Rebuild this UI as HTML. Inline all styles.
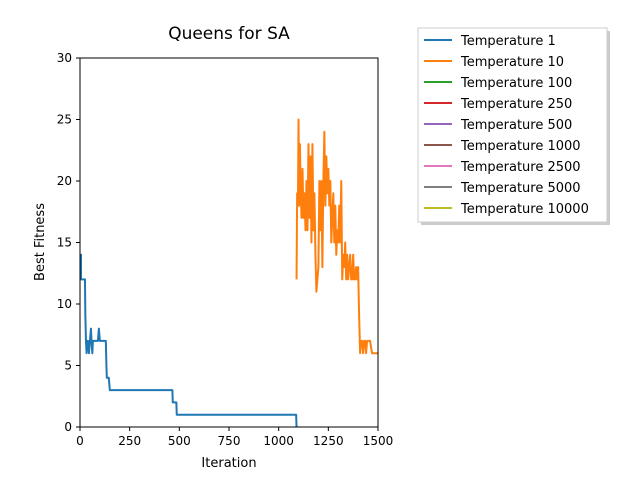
<!DOCTYPE html>
<html><head><meta charset="utf-8"><style>
body{margin:0;background:#fff;font-family:"Liberation Sans","DejaVu Sans",sans-serif}
</style></head><body>
<svg id="chart" width="640" height="480" xmlns="http://www.w3.org/2000/svg" font-family="DejaVu Sans, Liberation Sans, sans-serif">
<rect width="640" height="480" fill="#fff"/>
<text x="229" y="39" font-size="17" text-anchor="middle">Queens for SA</text>
<g id="axes"></g>
<g id="series"></g>
<rect x="80" y="58" width="298" height="369" fill="none" stroke="#000" stroke-width="1"/>
<text x="229" y="467" font-size="13" text-anchor="middle">Iteration</text>
<text x="0" y="0" font-size="13" text-anchor="middle" transform="translate(44,242) rotate(-90)">Best Fitness</text>
<g id="legend"></g>
</svg>
<script>
const xTicks=[0,250,500,750,1000,1250,1500];
const yTicks=[0,5,10,15,20,25,30];
const seriesNames=["Temperature 1","Temperature 10","Temperature 100","Temperature 250","Temperature 500","Temperature 1000","Temperature 2500","Temperature 5000","Temperature 10000"];
const seriesColors=["#1f77b4","#ff7f0e","#2ca02c","#d62728","#9467bd","#8c564b","#e377c2","#7f7f7f","#bcbd22"];
const blueIter=[0,5,5,25,27,30,33,37,40,45,50,55,58,62,65,70,75,80,85,90,95,100,105,110,130,133,135,140,145,150,465,467,485,487,1088,1090];
const blueVal=[14,14,12,12,9,7,6,7,7,6,7,8,7,6,7,7,7,7,7,7,8,7,7,7,7,5,4,4,4,3,3,2,2,1,1,0];
const orangeIter=[1090,1093,1097,1100,1103,1107,1110,1115,1120,1125,1130,1135,1140,1145,1150,1155,1160,1165,1170,1175,1180,1185,1190,1195,1200,1205,1210,1215,1220,1225,1230,1235,1240,1245,1250,1255,1260,1265,1270,1275,1280,1285,1290,1295,1300,1305,1310,1315,1320,1325,1330,1335,1340,1345,1350,1355,1360,1365,1370,1375,1380,1385,1390,1395,1400,1405,1410,1415,1420,1425,1430,1435,1440,1445,1450,1460,1470,1500];
const orangeVal=[12,19,18,25,18,23,20,17,21,17,19,16,20,16,23,17,22,15,23,16,19,14,11,12,13,20,16,20,13,20,24,18,22,19,21,18,20,15,17,19,15,18,14,16,15,18,15,20,12,14,13,15,12,14,12,13,14,12,12,14,12,12,13,12,13,9,6,7,7,6,7,7,6,7,7,7,6,6];
const X=v=>80+v*298/1500, Y=v=>427-v*369/30;
const NS="http://www.w3.org/2000/svg";
function mk(t,a,p){const e=document.createElementNS(NS,t);for(const k in a)e.setAttribute(k,a[k]);p.appendChild(e);return e;}
const ax=document.getElementById('axes');
xTicks.forEach(t=>{
  const l=mk('line',{x1:X(t),x2:X(t),y1:427,y2:431,stroke:'#000'},ax);
  
  
  const tx=mk('text',{x:X(t),y:445,'font-size':12,'text-anchor':'middle'},ax);tx.textContent=t;
  
  
});
yTicks.forEach(t=>{
  const l=mk('line',{x1:76,x2:80,y1:Y(t),y2:Y(t),stroke:'#000'},ax);
  
  
  const tx=mk('text',{x:72,y:Y(t)+4,'font-size':12,'text-anchor':'end'},ax);tx.textContent=t;
  
  
});
const sg=document.getElementById('series');
function line(it,v,c,name){
  const p=mk('polyline',{points:it.map((x,i)=>X(x)+','+Y(v[i])).join(' '),fill:'none',stroke:c,'stroke-width':2,'stroke-linejoin':'round'},sg);
  
  
}
line(blueIter,blueVal,seriesColors[0],'series-temperature-1');
line(orangeIter,orangeVal,seriesColors[1],'series-temperature-10');
const lg=document.getElementById('legend');
mk('rect',{x:421,y:31,width:189,height:194,fill:'#999',opacity:0.5},lg);
const box=mk('rect',{x:418,y:28,width:189,height:194,fill:'#fff',stroke:'#ccc'},lg);


seriesNames.forEach((n,i)=>{
  const y=40+i*21;
  const g=mk('g',{},lg);
  
  
  mk('line',{x1:424,x2:452,y1:y,y2:y,stroke:seriesColors[i],'stroke-width':2},g);
  const t=mk('text',{x:461,y:y+5,'font-size':13},g);t.textContent=n;
});
</script>
</body></html>
